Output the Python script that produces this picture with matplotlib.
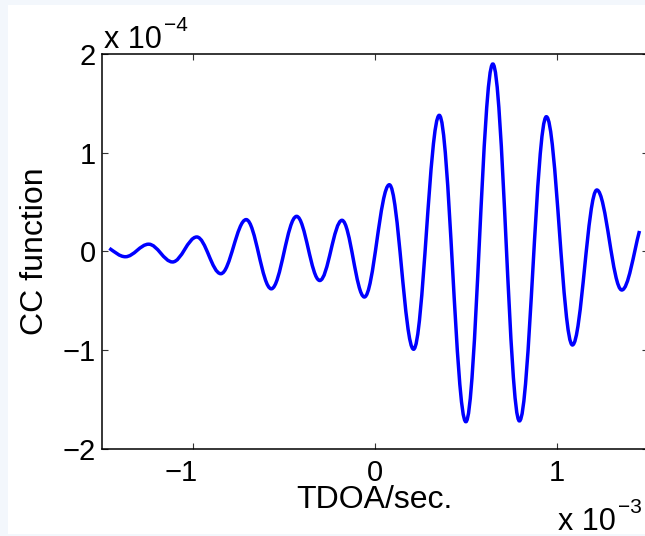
import matplotlib
matplotlib.use("Agg")
import matplotlib.pyplot as plt
from matplotlib.path import Path
from matplotlib.patches import PathPatch, Rectangle
from matplotlib.transforms import ScaledTranslation

plt.rcParams['font.family'] = ['Liberation Sans', 'DejaVu Sans']

# turning points of the CC curve
# (first and last entries are the ends of the curve)
tdoa_ms = [-1.457, -1.369, -1.241, -1.110, -0.977, -0.845, -0.706, -0.568,
           -0.429, -0.302, -0.180, -0.057, 0.080, 0.213, 0.354, 0.500,
           0.648, 0.794, 0.942, 1.085, 1.219, 1.356, 1.453]
cc_e4 = [0.032, -0.053, 0.074, -0.106, 0.147, -0.225, 0.323, -0.378,
         0.356, -0.294, 0.316, -0.461, 0.676, -0.990, 1.379, -1.724,
         1.899, -1.716, 1.365, -0.947, 0.623, -0.390, 0.208]

x_ticks = [-1, 0, 1]
x_ticklabels = ['\u22121', '0', '1']
y_ticks = [-2, -1, 0, 1, 2]
y_ticklabels = ['\u22122', '\u22121', '0', '1', '2']

# slope at the two loose ends of the curve
START_SLOPE = -1.2
END_SLOPE = 7.0
K = 0.363  # bezier handle for a half cosine

fig = plt.figure(figsize=(6.45, 5.36), dpi=100)
fig.patch.set_facecolor('#f3f7fc')
fig.patches.append(Rectangle((8 / 645, 2 / 536), 1, 529 / 536, transform=fig.transFigure,
                             facecolor='white', edgecolor='none', zorder=-1))

ax = fig.add_axes([0.1574, 0.1623, 0.8473, 0.737])
ax.set_facecolor('white')

# smooth curve through the turning points (horizontal tangent at each extremum)
verts = [(tdoa_ms[0], cc_e4[0])]
codes = [Path.MOVETO]
n = len(tdoa_ms)
for i in range(n - 1):
    t0, v0, t1, v1 = tdoa_ms[i], cc_e4[i], tdoa_ms[i + 1], cc_e4[i + 1]
    d = t1 - t0
    if i == 0:
        c1 = (t0 + d / 3, v0 + START_SLOPE * d / 3)
    else:
        c1 = (t0 + K * d, v0)
    if i == n - 2:
        c2 = (t1 - d / 3, v1 - END_SLOPE * d / 3)
    else:
        c2 = (t1 - K * d, v1)
    verts += [c1, c2, (t1, v1)]
    codes += [Path.CURVE4] * 3
ax.add_patch(PathPatch(Path(verts, codes), fill=False, edgecolor='#0000ff',
                       linewidth=2.5, joinstyle='round'))

ax.set_xlim(-1.5, 1.5)
ax.set_ylim(-2, 2)
ax.set_xticks(x_ticks, x_ticklabels)
ax.set_yticks(y_ticks, y_ticklabels)
ax.tick_params(direction='in', length=4, width=0.8, labelsize=21, top=True, right=True,
               color='#333333')
ax.tick_params(axis='x', pad=7)
ax.tick_params(axis='y', pad=4)
for s in ax.spines.values():
    s.set_linewidth(1.1)

# MATLAB puts the digit on the tick, minus sign hangs left
for lab in ax.get_xticklabels():
    if lab.get_text().startswith('\u2212'):
        lab.set_transform(lab.get_transform() + ScaledTranslation(-8 / 72, 0, fig.dpi_scale_trans))

ax.set_xlabel('TDOA/sec.', fontsize=23)
ax.xaxis.set_label_coords(0.5, -0.09)
ax.set_ylabel('CC function', fontsize=23)
ax.yaxis.set_label_coords(-0.094, 0.5)

# MATLAB style exponent labels, superscript raised well above the base
fig.text(104 / 645, 1 - 48 / 536, 'x 10', fontsize=22, ha='left', va='baseline')
fig.text(164 / 645, 1 - 31 / 536, '\u22124', fontsize=15, ha='left', va='baseline')
fig.text(558 / 645, 1 - 530 / 536, 'x 10', fontsize=22, ha='left', va='baseline')
fig.text(618 / 645, 1 - 513 / 536, '\u22123', fontsize=15, ha='left', va='baseline')

fig.savefig('out.png', dpi=100, facecolor=fig.get_facecolor())
plt.close(fig)
